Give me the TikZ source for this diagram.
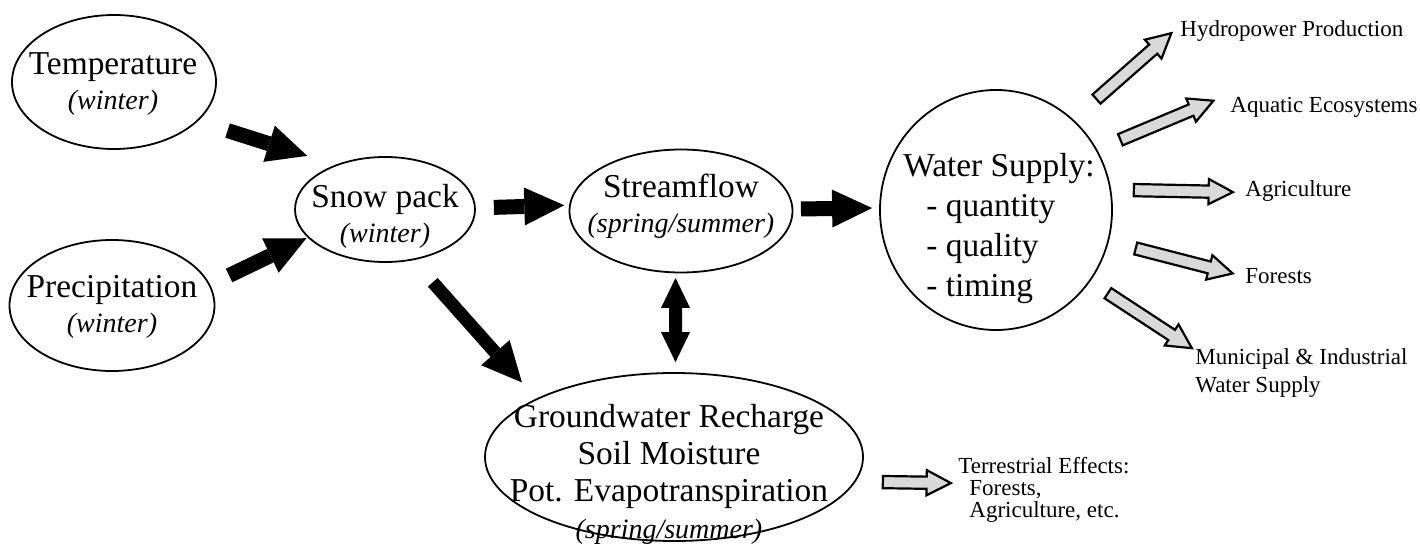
\documentclass[tikz,border=0pt]{standalone}
\usepackage{fontspec}
\setmainfont{Liberation Serif}
\usetikzlibrary{shapes,arrows.meta,calc}

\newcommand\season[1]{{\fontsize{14}{17}\selectfont\itshape #1}}
\newcommand\hollowarrow[2]{%
  \path let \p1=(#1), \p2=(#2), \n1={veclen(\x2-\x1,\y2-\y1)} in
    (\p1) -- node[hollowarr,sloped,minimum height=\n1] {} (\p2);}

\begin{document}
\begin{tikzpicture}[x=0.5pt,y=-0.5pt,
bubble/.style={
    ellipse,
    draw,
    line width=0.9pt,
    inner sep=0pt
    },
bigtext/.style={
    align=center,
    inner sep=0pt,
    font=\fontsize{16.7}{17.5}\selectfont
    },
labeltext/.style={
    inner sep=0pt,
    font=\fontsize{11.5}{14}\selectfont
    },
fatarrow/.style={
    line width=7.5pt,
    -{Triangle[length=20pt,width=19pt,line width=0pt]}
    },
hollowarr/.style={
    single arrow,
    draw=black,
    line width=1.1pt,
    fill=gray!30,
    inner xsep=0pt,
    inner ysep=2.5pt,
    minimum width=11.5pt,
    single arrow head extend=3.25pt,
    single arrow tip angle=55,
    single arrow head indent=0pt
    }
]
\useasboundingbox (0,0) rectangle (1420,551);

% ellipses
\node(temp) at (114,82) [bubble,minimum width=102pt,minimum height=67pt] {};
\node(prec) at (112,305.5) [bubble,minimum width=102.5pt,minimum height=65.5pt] {};
\node(snow) at (385,209.5) [bubble,minimum width=90pt,minimum height=52.5pt] {};
\node(stream) at (681,211) [bubble,minimum width=111.5pt,minimum height=61.5pt] {};
\node(ws) at (996,210) [bubble,minimum width=116pt,minimum height=120pt] {};
\node(gw) at (674,457) [bubble,minimum width=189pt,minimum height=84pt] {};

% texts inside
\node(tempT) at (113,84.5) [bigtext] {Temperature\\\season{(winter)}};
\node(precT) at (112,306.5) [bigtext] {Precipitation\\\season{(winter)}};
\node(snowT) at (385,216) [bigtext] {Snow pack\\\season{(winter)}};
\node(streamT) at (681,206.5) [bigtext] {Streamflow\\\season{(spring/summer)}};
\node(wsT) at (999,228.5) [bigtext,align=left,font=\fontsize{16.7}{20}\selectfont]
    {Water Supply:\\\hspace*{11.5pt}- quantity\\\hspace*{11.5pt}- quality\\\hspace*{11.5pt}- timing};
\node(gwT) at (669,474.5) [bigtext,font=\fontsize{16.7}{18.5}\selectfont]
    {Groundwater Recharge\\Soil Moisture\\Pot. Evapotranspiration\\\season{(spring/summer)}};

% labels on the right
\node(hydro) at (1180,37) [labeltext,anchor=base west] {Hydropower Production};
\node(aquatic) at (1230,113) [labeltext,anchor=base west] {Aquatic Ecosystems};
\node(agri) at (1245,197) [labeltext,anchor=base west] {Agriculture};
\node(forests) at (1245,283) [labeltext,anchor=base west] {Forests};
\node(muni) at (1195,373.5) [labeltext,anchor=west,align=left] {Municipal \& Industrial\\Water Supply};
\node(terr) at (958,489.5) [labeltext,anchor=west,align=left,font=\fontsize{11.5}{11}\selectfont]
    {Terrestrial Effects:\\\hspace*{5.5pt}Forests,\\\hspace*{5.5pt}Agriculture, etc.};

% black arrows
\draw[fatarrow,shorten <=15.5pt,shorten >=14.75pt] (temp.-25.7) -- (snow.138);
\draw[fatarrow,shorten <=10.5pt,shorten >=0.7pt] (prec.12.3) -- (snow.-160.3);
\draw[fatarrow,line width=6.5pt,shorten <=14.75pt,shorten >=10.75pt] (snow.-61.4) -- (gw.157);
\draw[fatarrow,shorten <=9pt,shorten >=2.4pt] (snow.1.9) -- (stream.177.9);
\draw[fatarrow,shorten <=3.8pt,shorten >=3.5pt] (stream.1.5) -- (ws.179);
\draw[line width=6.5pt,{Triangle[length=15pt,width=14.5pt,line width=0pt]}-{Triangle[length=15pt,width=14.5pt,line width=0pt]},
    shorten <=2.3pt,shorten >=5pt] (stream.-95.6) -- (gw.89.3);

% hollow arrows
\coordinate (hydroA) at (1092,103);   \coordinate (hydroB) at (1167,37);
\coordinate (aquaticA) at (1115,142); \coordinate (aquaticB) at (1208,103);
\coordinate (agriA) at (1128,190);    \coordinate (agriB) at (1227,192);
\coordinate (forestsA) at (1130,247); \coordinate (forestsB) at (1227,272);
\coordinate (muniA) at (1103,290);    \coordinate (muniB) at (1187,345);
\coordinate (terrA) at (877,482);     \coordinate (terrB) at (945,483);
\hollowarrow{hydroA}{hydroB}
\hollowarrow{aquaticA}{aquaticB}
\hollowarrow{agriA}{agriB}
\hollowarrow{forestsA}{forestsB}
\hollowarrow{muniA}{muniB}
\hollowarrow{terrA}{terrB}
\end{tikzpicture}
\end{document}
